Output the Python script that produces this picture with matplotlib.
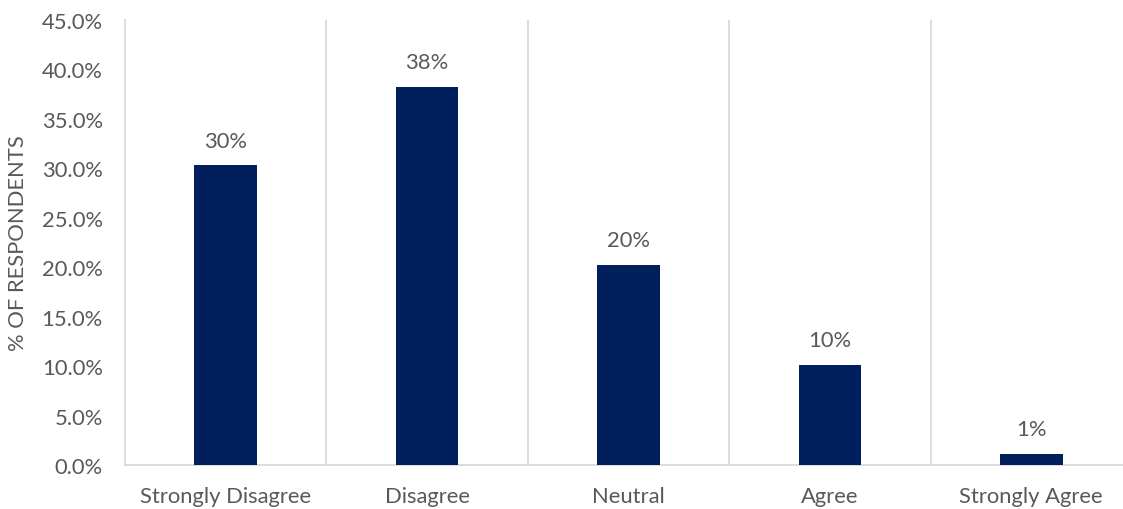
import matplotlib
matplotlib.use("Agg")
import matplotlib.pyplot as plt
from matplotlib.ticker import FuncFormatter, FixedLocator

categories = ["Strongly Disagree", "Disagree", "Neutral", "Agree", "Strongly Agree"]
values = [30.3, 38.2, 20.2, 10.1, 1.1]
labels = ["30%", "38%", "20%", "10%", "1%"]

plt.rcParams['font.family'] = ['Lato', 'DejaVu Sans']
txt = "#595959"
grid = "#D9D9D9"
fs = 15.8

fig = plt.figure(figsize=(11.23, 5.10), dpi=100)
ax = fig.add_axes([125/1123, 44/510, 1007/1123, 445/510])

x = list(range(len(categories)))
ax.bar(x, values, width=0.31, color="#001F5C", zorder=3)
for xi, v, l in zip(x, values, labels):
    ax.text(xi, v + 1.5, l, ha="center", va="bottom", fontsize=fs, color=txt)

ax.set_xlim(-0.5, len(categories) - 0.5)
ax.set_ylim(0, 45)
ax.set_yticks([i * 5 for i in range(10)])
ax.yaxis.set_major_formatter(FuncFormatter(lambda v, p: f"{v:.1f}%"))
ax.set_xticks(x)
ax.set_xticklabels(categories)
ax.xaxis.set_minor_locator(FixedLocator([i + 0.5 for i in range(len(categories) - 1)]))
ax.grid(which="minor", axis="x", color=grid, linewidth=1.3, zorder=0)
ax.tick_params(axis="both", which="both", length=0, labelsize=fs, labelcolor=txt)
ax.tick_params(axis="x", pad=15)
ax.tick_params(axis="y", pad=16)

for s in ["top", "right"]:
    ax.spines[s].set_visible(False)
ax.spines["left"].set_color(grid)
ax.spines["left"].set_linewidth(1.3)
ax.spines["bottom"].set_color(grid)
ax.spines["bottom"].set_linewidth(1.3)

ax.set_ylabel("% OF RESPONDENTS", fontsize=fs, color=txt)
ax.yaxis.set_label_coords(-97/1007, 0.5)

fig.savefig("out.png", dpi=100)
